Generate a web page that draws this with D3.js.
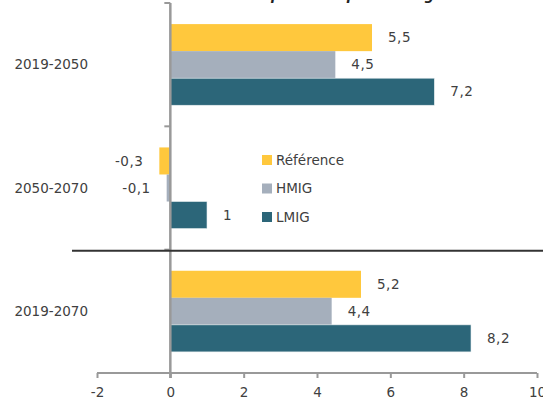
<!DOCTYPE html>
<html><head><meta charset="utf-8">
<script src="https://cdn.jsdelivr.net/npm/d3@7"></script>
<style>body{margin:0;background:#fff;} svg{display:block;}</style>
</head><body>
<svg id="c" width="543" height="400"></svg>
<script>
const categories = ["2019-2050", "2050-2070", "2019-2070"];
const seriesNames = ["Référence", "HMIG", "LMIG"];
const seriesColors = ["#FFC83D", "#A5AFBC", "#2C6679"];
const reference = [5.5, -0.3, 5.2];
const hmig = [4.5, -0.1, 4.4];
const lmig = [7.2, 1, 8.2];
const xTicks = [-2, 0, 2, 4, 6, 8, 10];
const title = "Différence en points de pourcentage";

const values = [reference, hmig, lmig];
const svg = d3.select("#c");
const font = "'DejaVu Sans', sans-serif";
const textColor = "#404040";
const fs = 13.5;

const x = d3.scaleLinear().domain([-2, 10]).range([97, 537]);
const y = d3.scaleBand().domain(categories).range([3, 373]).padding(0);
const ys = d3.scaleBand().domain(seriesNames).range([0, y.bandwidth()]).paddingInner(0).paddingOuter(0.78);

// title (cut off at top in the reference)
svg.append("text").attr("x", 164).attr("y", 0)
  .attr("font-family", font).attr("font-size", 13.5).attr("font-style", "italic").attr("font-weight", "bold")
  .attr("fill", "#222").text(title);

// bars
const data = [];
categories.forEach((c, ci) => seriesNames.forEach((s, si) => data.push({c, s, si, v: values[si][ci]})));

svg.append("g").selectAll("rect").data(data).join("rect")
  .attr("x", d => x(Math.min(0, d.v)))
  .attr("width", d => Math.abs(x(d.v) - x(0)))
  .attr("y", d => y(d.c) + ys(d.s))
  .attr("height", ys.bandwidth())
  .attr("fill", d => seriesColors[d.si])
  .attr("stroke", d => d.si === 2 ? "#e8eef0" : "none")
  .attr("stroke-width", 0.6);

// value labels
const fmt = v => String(v).replace(".", ",");
svg.append("g").selectAll("text").data(data).join("text")
  .attr("x", d => d.v >= 0 ? x(d.v) + 16 : x(d.v) - 16)
  .attr("y", d => y(d.c) + ys(d.s) + ys.bandwidth() / 2)
  .attr("dy", "0.35em")
  .attr("text-anchor", d => d.v >= 0 ? "start" : "end")
  .attr("font-family", font).attr("font-size", fs).attr("fill", textColor)
  .attr("letter-spacing", 0.5)
  .text(d => fmt(d.v));

// x axis
const xAxis = svg.append("g").attr("transform", "translate(0,373)")
  .call(d3.axisBottom(x).tickValues(xTicks).tickSize(5).tickPadding(9).tickFormat(d => String(d)));
xAxis.select(".domain").attr("stroke", "#999").attr("stroke-width", 2).attr("d", `M${x(-2)},0H${x(10)}`);
xAxis.selectAll(".tick line").attr("stroke", "#999").attr("stroke-width", 2);
xAxis.selectAll(".tick text").attr("font-family", font).attr("font-size", fs).attr("fill", textColor);

// y axis (vertical line at zero)
const boundaries = categories.map(c => y(c));
const yg = svg.append("g");
yg.append("line").attr("x1", x(0)).attr("x2", x(0)).attr("y1", 3).attr("y2", 378)
  .attr("stroke", "#999").attr("stroke-width", 2.5);
yg.selectAll(".tk").data(boundaries).join("line").attr("class", "tk")
  .attr("x1", x(0) - 6).attr("x2", x(0)).attr("y1", d => d).attr("y2", d => d)
  .attr("stroke", "#999").attr("stroke-width", 2);

// category labels
svg.append("g").selectAll("text").data(categories).join("text")
  .attr("x", 88).attr("y", d => y(d) + y.bandwidth() / 2)
  .attr("dy", "0.35em").attr("text-anchor", "end")
  .attr("font-family", font).attr("font-size", fs).attr("fill", textColor)
  .text(d => d);

// separator line
svg.append("line").attr("x1", 72).attr("x2", 543)
  .attr("y1", y(categories[2]) + 1).attr("y2", y(categories[2]) + 1)
  .attr("stroke", "#333").attr("stroke-width", 2);

// legend
const lg = svg.append("g").attr("transform", "translate(262,160)");
seriesNames.forEach((s, i) => {
  const g = lg.append("g").attr("transform", `translate(0,${i * 28.5})`);
  g.append("rect").attr("x", 0).attr("y", -5).attr("width", 10).attr("height", 10).attr("fill", seriesColors[i]);
  g.append("text").attr("x", 14).attr("y", 0).attr("dy", "0.35em")
    .attr("font-family", font).attr("font-size", fs).attr("fill", textColor).text(s);
});
</script>
</body></html>
